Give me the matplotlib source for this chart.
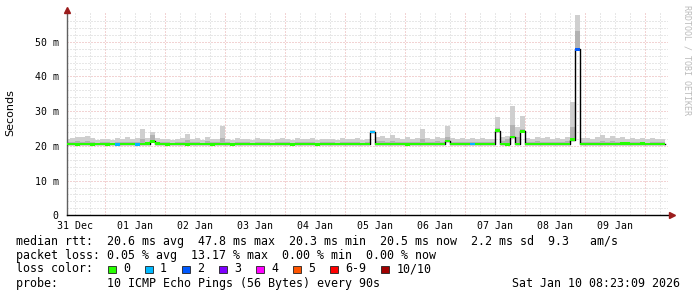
import matplotlib
matplotlib.use("Agg")
import matplotlib.pyplot as plt
import numpy as np
from matplotlib.patches import Rectangle

# 2 h bins starting 31 Dec 20:00 (hours relative to 31 Dec 00:00)
bin_hours = 2
start_hour = -4

median_ms = [
    20.5, 20.5, 20.4, 20.5, 20.5, 20.4, 20.5, 20.5, 20.4, 20.5,
    20.4, 20.5, 20.5, 20.5, 20.4, 20.5, 20.6, 21.3, 20.6, 20.5,
    20.4, 20.5, 20.5, 20.5, 20.4, 20.5, 20.5, 20.5, 20.5, 20.4,
    20.5, 20.5, 20.5, 20.4, 20.5, 20.5, 20.5, 20.5, 20.5, 20.5,
    20.5, 20.5, 20.5, 20.5, 20.5, 20.4, 20.5, 20.5, 20.5, 20.5,
    20.4, 20.5, 20.5, 20.5, 20.5, 20.5, 20.5, 20.5, 20.5, 20.5,
    20.5, 24.0, 20.5, 20.5, 20.5, 20.5, 20.5, 20.5, 20.4, 20.5,
    20.5, 20.5, 20.5, 20.5, 20.5, 20.5, 21.4, 20.5, 20.5, 20.5,
    20.5, 20.5, 20.5, 20.5, 20.5, 20.5, 24.4, 20.5, 20.4, 22.5,
    20.5, 24.2, 20.5, 20.5, 20.5, 20.5, 20.5, 20.5, 20.5, 20.5,
    20.5, 21.8, 47.8, 20.5, 20.5, 20.5, 20.5, 20.5, 20.5, 20.5,
    20.5, 20.6, 20.6, 20.5, 20.5, 20.6, 20.5, 20.5, 20.5, 20.5,
]

smoke_core_ms = [
    21.0, 21.2, 21.3, 21.2, 21.3, 21.1, 20.9, 21.0, 21.0, 20.9,
    21.1, 21.0, 21.2, 21.0, 21.1, 22.0, 21.2, 23.0, 21.2, 21.0,
    21.0, 20.9, 21.0, 21.1, 21.6, 21.0, 21.2, 20.9, 21.3, 21.0,
    21.0, 22.2, 21.0, 20.9, 21.1, 21.0, 21.0, 20.9, 21.1, 21.0,
    21.0, 20.9, 21.0, 21.2, 21.0, 20.9, 21.1, 21.0, 21.0, 21.1,
    20.9, 21.0, 21.0, 21.0, 20.9, 21.1, 21.0, 21.0, 21.2, 20.9,
    21.0, 24.2, 21.3, 21.4, 21.2, 21.5, 21.1, 21.0, 21.2, 21.0,
    21.1, 22.0, 21.2, 21.0, 21.3, 21.1, 22.6, 21.1, 21.0, 21.2,
    21.0, 21.1, 21.0, 21.1, 21.0, 21.0, 25.2, 21.3, 22.0, 26.0,
    22.5, 25.0, 21.2, 21.0, 21.3, 21.1, 21.2, 21.0, 21.2, 21.0,
    21.3, 25.5, 53.0, 21.2, 21.1, 21.0, 21.2, 21.5, 21.2, 21.4,
    21.1, 21.2, 21.0, 21.1, 21.0, 21.2, 20.9, 21.1, 21.0, 21.0,
]

smoke_max_ms = [
    21.9, 22.4, 22.6, 22.5, 22.7, 22.2, 21.8, 22.1, 22.0, 21.7,
    22.3, 21.9, 22.5, 22.0, 22.2, 24.8, 22.3, 24.0, 22.4, 21.9,
    22.1, 21.8, 22.0, 22.2, 23.3, 21.9, 22.4, 21.8, 22.6, 22.0,
    21.9, 25.7, 22.1, 21.8, 22.3, 21.9, 22.0, 21.7, 22.2, 21.9,
    22.1, 21.8, 22.0, 22.4, 21.9, 21.7, 22.2, 21.9, 22.0, 22.3,
    21.8, 22.1, 21.9, 22.0, 21.7, 22.2, 21.9, 22.0, 22.4, 21.8,
    22.0, 24.5, 22.6, 22.9, 22.4, 23.0, 22.3, 22.1, 22.5, 22.0,
    22.3, 25.0, 22.4, 22.1, 22.6, 22.2, 25.8, 22.3, 22.0, 22.4,
    21.9, 22.2, 22.0, 22.3, 21.9, 22.1, 28.4, 22.6, 22.9, 31.5,
    25.5, 28.6, 22.4, 22.0, 22.6, 22.3, 22.5, 22.1, 22.4, 22.0,
    22.6, 32.7, 57.8, 22.4, 22.2, 22.0, 22.5, 23.1, 22.4, 22.9,
    22.2, 22.5, 22.0, 22.3, 22.1, 22.4, 21.9, 22.2, 22.0, 21.9,
]

# pings lost (out of 10) per bin, 0 unless listed
loss_bins = {10: 1, 14: 1, 61: 1, 81: 1, 102: 2}

day_labels = ["31 Dec", "01 Jan", "02 Jan", "03 Jan", "04 Jan",
              "05 Jan", "06 Jan", "07 Jan", "08 Jan", "09 Jan"]
y_ticks = [0, 10, 20, 30, 40, 50]
y_labels = ["0", "10 m", "20 m", "30 m", "40 m", "50 m"]

loss_names = ["0", "1", "2", "3", "4", "5", "6-9", "10/10"]
loss_colors = ["#26ff00", "#00b8ff", "#0059ff", "#7e00ff",
               "#ff00ff", "#ff5500", "#ff0000", "#a10000"]

legend_rtt = "median rtt:  20.6 ms avg  47.8 ms max  20.3 ms min  20.5 ms now  2.2 ms sd  9.3   am/s"
legend_loss = "packet loss: 0.05 % avg  13.17 % max  0.00 % min  0.00 % now"
legend_probe = "probe:       10 ICMP Echo Pings (56 Bytes) every 90s"
stamp = "Sat Jan 10 08:23:09 2026"

MONO = "DejaVu Sans Mono"
W, H = 697, 297

med = np.array(median_ms)
core = np.array(smoke_core_ms)
smax = np.array(smoke_max_ms)
n = len(med)
x_start = (start_hour + bin_hours * np.arange(n)) / 24.0
x_edges = np.append(x_start, x_start[-1] + bin_hours / 24.0)
ext = lambda a: np.append(a, a[-1])

fig = plt.figure(figsize=(W / 100, H / 100), dpi=100)
fig.patch.set_facecolor("white")
left, right, top, bottom = 67, 668, 13, 215.3
ax = fig.add_axes([left / W, 1 - bottom / H, (right - left) / W, (bottom - top) / H])
ax.set_xlim(-8 / 60, 593 / 60)
ax.set_ylim(0, (bottom - top) / 3.472)

# grid
dots = (0, (1, 2))
for v in np.arange(2, 58, 2):
    c = "#e6a8a8" if v % 10 == 0 else "#d0d0d0"
    ax.axhline(v, color=c, lw=0.72, ls=dots, zorder=0)
for h in np.arange(0, 9.9, 0.25):
    c = "#e6a8a8" if abs(h % 1 - 0.5) < 1e-6 else "#d0d0d0"
    ax.axvline(h, color=c, lw=0.72, ls=dots, zorder=0)

# smoke
ax.fill_between(x_edges, ext(med), ext(core), step="post", color="#b2b2b2", lw=0, zorder=2)
ax.fill_between(x_edges, ext(core), ext(smax), step="post", color="#cfcfcf", lw=0, zorder=2)

# median line + loss colored blocks
ax.step(x_edges, ext(med), where="post", color="black", lw=1.0, zorder=3)
bar_cols = [loss_colors[loss_bins.get(i, 0)] for i in range(n)]
ax.bar(x_start, 0.75, bottom=med - 0.37, width=bin_hours / 24.0, align="edge",
       color=bar_cols, lw=0, zorder=4)

# axes
for s in ["top", "right"]:
    ax.spines[s].set_visible(False)
ax.spines["left"].set_color("#606060")
ax.spines["bottom"].set_color("black")
ax.spines["left"].set_linewidth(1.0)
ax.spines["bottom"].set_linewidth(1.0)
ax.plot([0], [1.017], marker="^", color="#9b1c1c", ms=5, transform=ax.transAxes, clip_on=False, zorder=6)
ax.plot([1.006], [0], marker=">", color="#9b1c1c", ms=5, transform=ax.transAxes, clip_on=False, zorder=6)

ax.set_xticks(range(len(day_labels)))
ax.set_xticklabels(day_labels, fontfamily=MONO, fontsize=7.1)
ax.set_yticks(y_ticks)
ax.set_yticklabels(y_labels, fontfamily=MONO, fontsize=7.1)
ax.tick_params(axis="x", length=0, pad=4)
ax.tick_params(axis="y", length=0, pad=6)

def fx(px):
    return px / W

def fy(py):
    return 1 - py / H

fig.text(fx(10), fy(113), "Seconds", rotation=90, ha="center", va="center",
         fontsize=8, fontfamily="DejaVu Sans")
fig.text(fx(687), fy(60), "RRDTOOL / TOBI OETIKER", rotation=270, ha="center",
         va="center", fontsize=6, fontfamily=MONO, color="#bbbbbb")

cw = 7.05
fig.text(fx(16), fy(241), legend_rtt, fontfamily=MONO, fontsize=8.4, va="center")
fig.text(fx(16), fy(255.5), legend_loss, fontfamily=MONO, fontsize=8.4, va="center")
fig.text(fx(16), fy(269), "loss color:", fontfamily=MONO, fontsize=8.4, va="center")
fig.text(fx(16), fy(283.3), legend_probe, fontfamily=MONO, fontsize=8.4, va="center")
fig.text(fx(680), fy(283.3), stamp, fontfamily=MONO, fontsize=8.4, va="center", ha="right")

bx = 108
for name, col in zip(loss_names, loss_colors):
    fig.add_artist(Rectangle((fx(bx), fy(273)), 7.5 / W, 7.5 / H, transform=fig.transFigure,
                             facecolor=col, edgecolor="#202020", lw=0.6))
    fig.text(fx(bx + 15), fy(269), name, fontfamily=MONO, fontsize=8.4, va="center")
    bx = bx + 15 + len(name) * cw + 15

fig.savefig("out.png", dpi=100)
